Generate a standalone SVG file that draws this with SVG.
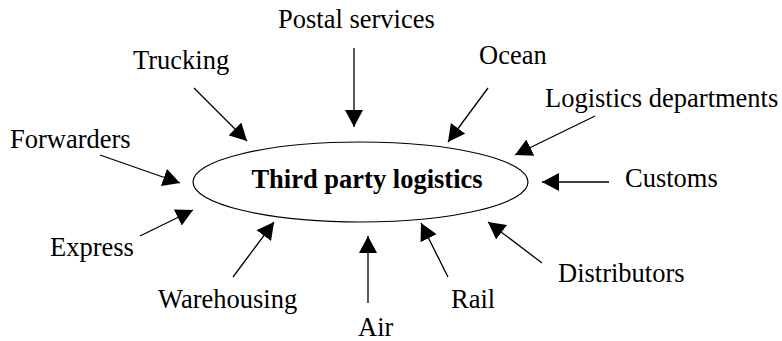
<svg xmlns="http://www.w3.org/2000/svg" width="782" height="341" viewBox="0 0 782 341">
<style>
text { font-family: "Liberation Serif", "Times New Roman", serif; font-size: 26.5px; fill: #000; }
.b { font-weight: bold; }
.c line { stroke: #000; stroke-width: 1.3; marker-end: url(#ah); }
</style>
<defs>
<marker id="ah" viewBox="0 0 17 18" refX="17" refY="9" markerWidth="17" markerHeight="18" markerUnits="userSpaceOnUse" orient="auto">
<path d="M0,0 L17,9 L0,18 Z" fill="#000"/>
</marker>
</defs>
<rect width="782" height="341" fill="#fff"/>
<g id="center">
<ellipse cx="360.5" cy="182" rx="167.5" ry="40" fill="none" stroke="#000" stroke-width="1.2"/>
<text class="b" x="367" y="188" text-anchor="middle">Third party logistics</text>
</g>
<g id="postal"><text x="278" y="28">Postal services</text></g>
<g id="trucking"><text x="133" y="69">Trucking</text></g>
<g id="ocean"><text x="479" y="64">Ocean</text></g>
<g id="logdept"><text x="545" y="107">Logistics departments</text></g>
<g id="forwarders"><text x="10" y="148">Forwarders</text></g>
<g id="customs"><text x="625" y="187">Customs</text></g>
<g id="express"><text x="50" y="256">Express</text></g>
<g id="warehousing"><text x="158" y="308">Warehousing</text></g>
<g id="air"><text x="358" y="336">Air</text></g>
<g id="rail"><text x="451" y="308">Rail</text></g>
<g id="distributors"><text x="558" y="282">Distributors</text></g>
<g class="c" id="connectors">
<line x1="354" y1="48" x2="354" y2="127"/>
<line x1="194" y1="88" x2="247" y2="141"/>
<line x1="488" y1="88" x2="448" y2="142"/>
<line x1="595" y1="116" x2="515" y2="155"/>
<line x1="100" y1="155" x2="180" y2="183"/>
<line x1="609" y1="182" x2="542" y2="182"/>
<line x1="140" y1="236" x2="193" y2="210"/>
<line x1="233" y1="277" x2="274" y2="222"/>
<line x1="368" y1="303" x2="368" y2="236"/>
<line x1="448" y1="277" x2="421" y2="223"/>
<line x1="542" y1="263" x2="488" y2="222"/>
</g>
</svg>
